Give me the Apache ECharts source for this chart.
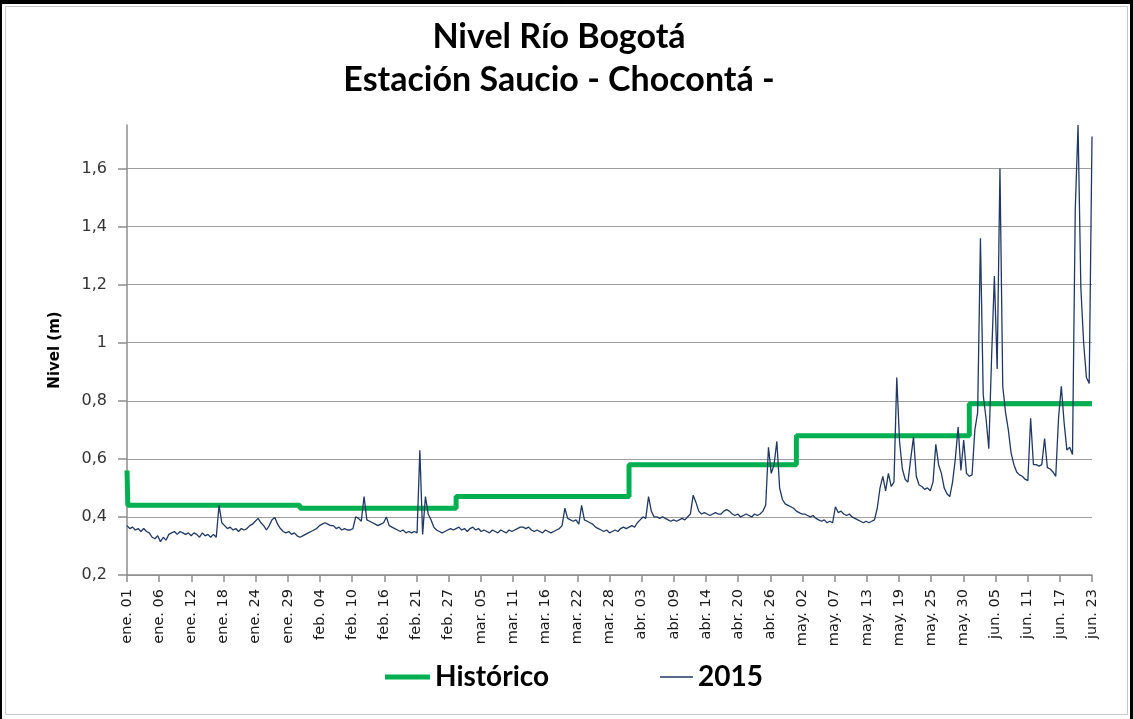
<!DOCTYPE html>
<html>
<head>
<meta charset="utf-8">
<script src="https://cdn.jsdelivr.net/npm/echarts@6/dist/echarts.min.js"></script>
<style>
  html, body { margin: 0; padding: 0; background: #fff; }
  #chart { width: 1133px; height: 719px; }
</style>
</head>
<body>
<div id="chart"></div>
<script>
// ---- data ----
const titleLines = ['Nivel Río Bogotá', 'Estación Saucio - Chocontá -'];
const yAxisName = 'Nivel (m)';
const seriesNames = ['Histórico', '2015'];

// x axis: days since 1 Jan 2015
const spanDays = 173;
const xTickLabels = ['ene. 01','ene. 06','ene. 12','ene. 18','ene. 24','ene. 29','feb. 04','feb. 10','feb. 16','feb. 21',
  'feb. 27','mar. 05','mar. 11','mar. 16','mar. 22','mar. 28','abr. 03','abr. 09','abr. 14','abr. 20',
  'abr. 26','may. 02','may. 07','may. 13','may. 19','may. 25','may. 30','jun. 05','jun. 11','jun. 17','jun. 23'];

const yTickValues = [0.2, 0.4, 0.6, 0.8, 1.0, 1.2, 1.4, 1.6];
const yTickLabels = ['0,2', '0,4', '0,6', '0,8', '1', '1,2', '1,4', '1,6'];

// Histórico (monthly historic level): day offsets and values
const histDays   = [0, 0.15, 31, 59, 90, 120, 151, 173];
const histValues = [0.56, 0.44, 0.43, 0.47, 0.58, 0.68, 0.79, 0.79];

// 2015 level, one reading every half day from 1 Jan
const stepDays = 0.5;
const levels2015 = [
  0.37,0.36, 0.365,0.355, 0.36,0.35, 0.36,0.35, 0.345,0.33, 0.325,0.335, 0.315,0.33, 0.32,0.34, 0.345,0.35, 0.34,0.35,
  0.345,0.34, 0.345,0.335, 0.345,0.34, 0.33,0.345, 0.335,0.34, 0.33,0.34, 0.33,0.44, 0.38,0.37, 0.36,0.365, 0.355,0.36,
  0.35,0.36, 0.355,0.36, 0.37,0.375, 0.385,0.395, 0.38,0.37, 0.355,0.37, 0.39,0.398, 0.375,0.36, 0.35,0.345, 0.35,0.34,
  0.345,0.335, 0.33,0.335, 0.34,0.345, 0.35,0.355, 0.36,0.37, 0.375,0.38, 0.375,0.37, 0.37,0.36, 0.365,0.355, 0.36,0.355,
  0.355,0.36, 0.40,0.395, 0.385,0.47, 0.39,0.385, 0.38,0.375, 0.37,0.375, 0.38,0.40, 0.37,0.365, 0.36,0.355, 0.35,0.355,
  0.345,0.35, 0.345,0.35, 0.345,0.63, 0.34,0.47, 0.41,0.39, 0.365,0.355, 0.35,0.345, 0.35,0.355, 0.36,0.355, 0.36,0.365,
  0.355,0.36, 0.35,0.36, 0.365,0.355, 0.36,0.35, 0.355,0.35, 0.345,0.355, 0.35,0.345, 0.355,0.35, 0.345,0.355, 0.35,0.355,
  0.36,0.365, 0.365,0.36, 0.365,0.355, 0.35,0.355, 0.35,0.345, 0.355,0.35, 0.345,0.35, 0.355,0.36, 0.37,0.43, 0.395,0.39,
  0.385,0.39, 0.375,0.44, 0.39,0.385, 0.38,0.375, 0.365,0.36, 0.355,0.35, 0.355,0.345, 0.35,0.355, 0.35,0.36, 0.365,0.36,
  0.365,0.37, 0.365,0.38, 0.39,0.40, 0.395,0.47, 0.42,0.40, 0.40,0.395, 0.40,0.395, 0.39,0.385, 0.39,0.385, 0.39,0.395,
  0.39,0.40, 0.41,0.475, 0.45,0.42, 0.41,0.415, 0.41,0.405, 0.41,0.415, 0.41,0.41, 0.42,0.425, 0.42,0.41, 0.405,0.41,
  0.40,0.405, 0.41,0.405, 0.40,0.41, 0.405,0.41, 0.42,0.44, 0.64,0.55, 0.58,0.66, 0.50,0.46, 0.445,0.44, 0.435,0.43,
  0.42,0.415, 0.41,0.41, 0.405,0.40, 0.405,0.395, 0.39,0.385, 0.39,0.38, 0.385,0.38, 0.435,0.415, 0.42,0.41, 0.405,0.41,
  0.40,0.395, 0.39,0.385, 0.38,0.385, 0.38,0.385, 0.39,0.43, 0.50,0.54, 0.49,0.55, 0.505,0.52, 0.88,0.66, 0.565,0.53,
  0.52,0.60, 0.675,0.54, 0.51,0.505, 0.495,0.50, 0.49,0.52, 0.65,0.58, 0.55,0.50, 0.48,0.47, 0.52,0.60, 0.71,0.56,
  0.665,0.55, 0.54,0.545, 0.70,0.76, 1.36,0.82, 0.74,0.635, 0.95,1.23, 0.91,1.60, 0.85,0.76, 0.70,0.62, 0.58,0.555,
  0.545,0.54, 0.53,0.525, 0.74,0.58, 0.58,0.575, 0.58,0.67, 0.57,0.565, 0.555,0.54, 0.74,0.85, 0.725,0.63, 0.64,0.615,
  1.46,1.75, 1.19,1.0, 0.88,0.86, 1.71
];

// ---- chart ----
const xInterval = spanDays / (xTickLabels.length - 1);
const histData = histDays.map((d, i) => [d, histValues[i]]);
const data2015 = levels2015.map((v, i) => [i * stepDays, v]);

const chart = echarts.init(document.getElementById('chart'), null, { renderer: 'canvas' });
const axisGray = '#8C8C8C';
const gridGray = '#9E9E9E';
const green = '#00B050';
const navy = '#1F3864';
const titleFont = 'bold 34px Lato';

chart.setOption({
  animation: false,
  backgroundColor: '#ffffff',
  graphic: [
    { type: 'rect', shape: { x: 5.5, y: 6.5, width: 1122, height: 708 }, style: { fill: 'none', stroke: '#C8C8C8', lineWidth: 1 }, silent: true },
    { type: 'rect', shape: { x: 0, y: 0, width: 1133, height: 4 }, style: { fill: '#000' }, silent: true },
    { type: 'rect', shape: { x: 0, y: 0, width: 2, height: 719 }, style: { fill: '#000' }, silent: true },
    { type: 'rect', shape: { x: 1130, y: 0, width: 3, height: 719 }, style: { fill: '#000' }, silent: true },
    { type: 'text', x: 559, y: 37, style: { text: titleLines[0], font: titleFont, fill: '#000', textAlign: 'center', textVerticalAlign: 'middle' }, silent: true },
    { type: 'text', x: 559, y: 80, style: { text: titleLines[1], font: titleFont, fill: '#000', textAlign: 'center', textVerticalAlign: 'middle' }, silent: true }
  ],
  legend: [
    {
      data: [{ name: seriesNames[0], icon: 'rect' }], left: 380, top: 658, itemWidth: 45, itemHeight: 5, itemGap: 0,
      textStyle: { fontFamily: 'Lato', fontWeight: 'bold', fontSize: 28, color: '#000' }
    },
    {
      data: [{ name: seriesNames[1], icon: 'rect' }], left: 655, top: 658, itemWidth: 33, itemHeight: 1.4, itemGap: 0,
      textStyle: { fontFamily: 'Lato', fontWeight: 'bold', fontSize: 28, color: '#000' }
    }
  ],
  grid: { left: 127, right: 41, top: 125, bottom: 144, containLabel: false },
  xAxis: {
    type: 'value',
    min: 0,
    max: spanDays,
    interval: xInterval,
    axisLine: { show: true, lineStyle: { color: axisGray, width: 1.5 } },
    axisTick: { show: true, length: 7, lineStyle: { color: axisGray, width: 1.5 } },
    splitLine: { show: false },
    axisLabel: {
      rotate: 90,
      margin: 14,
      fontFamily: 'DejaVu Sans',
      fontSize: 14.5,
      color: '#1a1a1a',
      formatter: v => xTickLabels[Math.round(v / xInterval)] || ''
    }
  },
  yAxis: {
    type: 'value',
    min: 0.2,
    max: 1.75,
    interval: 0.2,
    name: yAxisName,
    nameLocation: 'middle',
    nameGap: 64,
    nameTextStyle: { fontFamily: 'DejaVu Sans', fontWeight: 'bold', fontSize: 15, color: '#000' },
    axisLine: { show: true, lineStyle: { color: axisGray, width: 1.5 } },
    axisTick: { show: true, length: 9, customValues: yTickValues, lineStyle: { color: axisGray, width: 1.5 } },
    splitLine: { show: true, lineStyle: { color: gridGray, width: 1.2 } },
    axisLabel: {
      customValues: yTickValues,
      margin: 20,
      fontFamily: 'DejaVu Sans',
      fontSize: 16,
      color: '#333',
      formatter: v => {
        const i = yTickValues.findIndex(t => Math.abs(t - v) < 1e-6);
        return i >= 0 ? yTickLabels[i] : '';
      }
    }
  },
  series: [
    {
      name: seriesNames[0],
      type: 'line',
      step: 'end',
      data: histData,
      showSymbol: false,
      symbol: 'none',
      lineStyle: { color: green, width: 5 },
      itemStyle: { color: green },
      z: 2
    },
    {
      name: seriesNames[1],
      type: 'line',
      data: data2015,
      showSymbol: false,
      symbol: 'none',
      clip: true,
      lineStyle: { color: navy, width: 1.3 },
      itemStyle: { color: navy },
      z: 3
    }
  ]
});
</script>
</body>
</html>
